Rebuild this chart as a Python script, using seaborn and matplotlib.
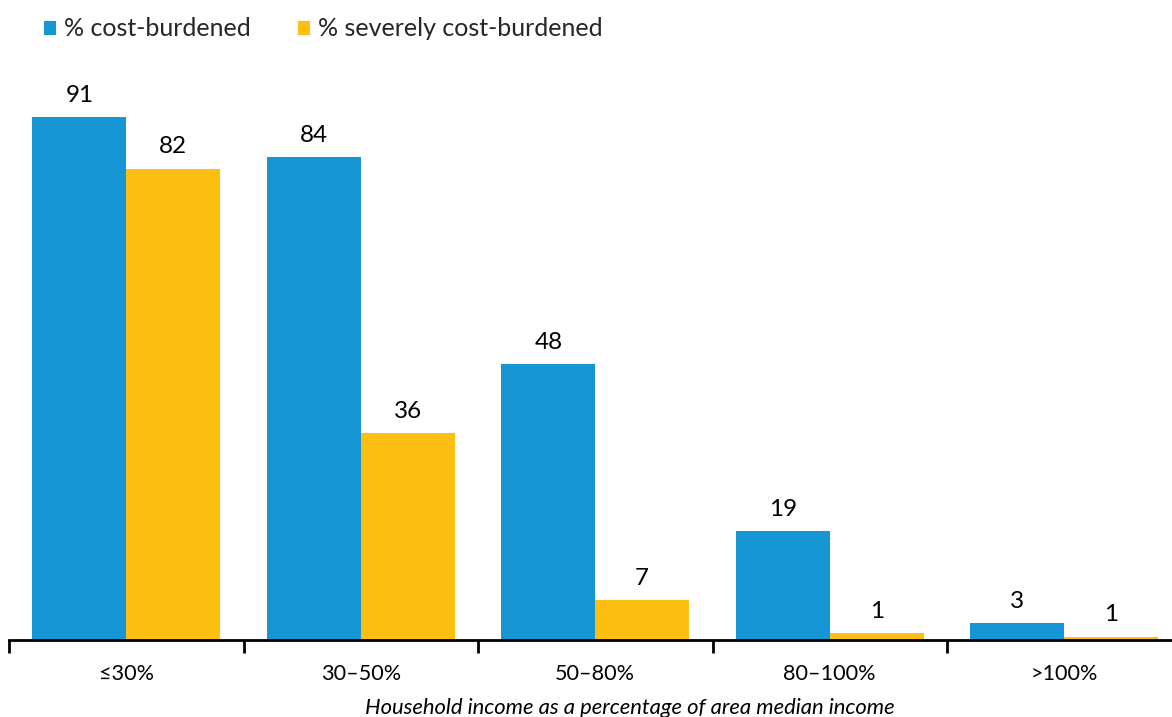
import numpy as np
import pandas as pd
import matplotlib
matplotlib.use("Agg")
import matplotlib.pyplot as plt
from matplotlib.ticker import FixedLocator
import seaborn as sns

categories = ["≤30%", "30–50%", "50–80%", "80–100%", ">100%"]
cost_burdened = [91, 84, 48, 19, 3]
# the two small bars differ in height in the picture although both read "1"
severely_burdened = [82, 36, 7, 1.2, 0.6]
series_names = ["% cost-burdened", "% severely cost-burdened"]

df = pd.DataFrame({
    "category": categories * 2,
    "value": cost_burdened + severely_burdened,
    "series": [series_names[0]] * len(categories) + [series_names[1]] * len(categories),
})

sns.set_style("white")
plt.rcParams["font.family"] = ["Lato", "DejaVu Sans"]

fig = plt.figure(figsize=(11.72, 7.17), dpi=100)
ax = fig.add_axes([9 / 1172, 77 / 717, 1172.5 / 1172, (640 - 65) / 717])

sns.barplot(data=df, x="category", y="value", hue="series",
            palette=["#1696d2", "#fdbf11"], width=0.8, saturation=1,
            order=categories, hue_order=series_names, linewidth=0, ax=ax)

for cont in ax.containers:
    ax.bar_label(cont, labels=[f"{v:.0f}" for v in cont.datavalues],
                 padding=8, fontsize=17.5, color="#000000")

ax.set_ylim(0, 100)
ax.set_xlim(-0.5, len(categories) - 0.5)
ax.set_yticks([])
ax.set_ylabel("")
for s in ["top", "right", "left"]:
    ax.spines[s].set_visible(False)
ax.spines["bottom"].set_linewidth(2)
ax.spines["bottom"].set_color("#000000")

ax.xaxis.set_minor_locator(FixedLocator(np.arange(-0.5, len(categories), 1)))
ax.tick_params(axis="x", which="major", length=0, pad=17, labelsize=15.6, colors="#000000")
ax.tick_params(axis="x", which="minor", length=9, width=2, color="#000000", direction="out", bottom=True)

ax.set_xlabel("Household income as a percentage of area median income",
              fontsize=15.8, style="italic", color="#000000")
ax.xaxis.set_label_coords((630 - 9) / 1172.5, -(698 - 640) / 575)

leg = ax.legend(loc="upper left", bbox_to_anchor=(26 / 1172, 1.0), bbox_transform=fig.transFigure,
                ncol=2, frameon=False, fontsize=18, handlelength=0.48, handleheight=0.48,
                handletextpad=0.32, columnspacing=1.92, borderaxespad=0.3)

fig.savefig("out.png", dpi=100)
